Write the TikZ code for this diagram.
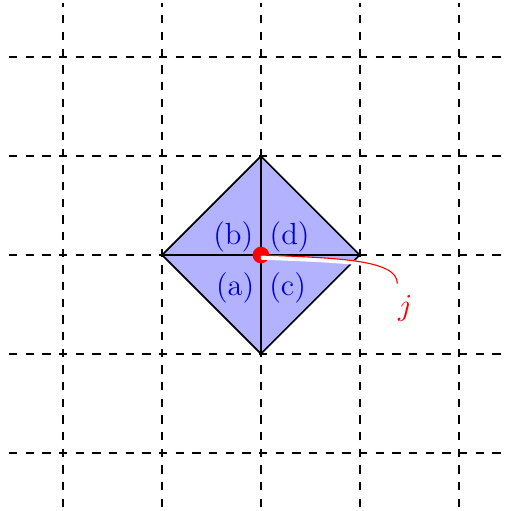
\documentclass[tikz,border=0pt]{standalone}
\usepackage{tikz}
\usetikzlibrary{calc}
\tikzset{
  gridline/.style={dashed, thick, draw=black},
  piece/.style={semithick, draw=black, fill=blue!30},
  part/.style={text=blue!85!black, inner sep=1pt, font=\fontsize{11}{13}\selectfont},
  halo/.style={white, line width=1.6pt},
  joint/.style={circle, fill=red, inner sep=0pt, minimum size=2.1mm}
}
\begin{document}
\begin{tikzpicture}[x=1.25cm,y=1.25cm]
\useasboundingbox (-2.64,-2.59) rectangle (2.47,2.58);
% grid
\foreach \i in {-2,...,2} {
  \draw[gridline] (-2.55,\i) -- (2.45,\i);
  \draw[gridline] (\i,-2.55) -- (\i,2.55);
}
% the square element
\coordinate (w) at (-1,0);
\coordinate (n) at (0,1);
\coordinate (e) at (1,0);
\coordinate (s) at (0,-1);
\filldraw[piece] (w) -- (n) -- (e) -- (s) -- cycle;
\draw[semithick] (w) -- (e);
\draw[semithick] (n) -- (s);
\node[part] (pb) at (-0.28,0.18) {(b)};
\node[part] (pd) at (0.29,0.18) {(d)};
\node[part] (pa) at (-0.26,-0.33) {(a)};
\node[part] (pc) at (0.27,-0.33) {(c)};
% the node j
\node[joint] (c0) at (0,0) {};
\node[text=red, font=\fontsize{11}{13}\selectfont] (jlbl) at (1.46,-0.54) {$j$};
\coordinate (jend) at ($(jlbl.north)+(-0.08,0.02)$);
\draw[halo] ($(c0.center)+(0,-0.025)$) .. controls (0.8,-0.055) and (1.38,-0.075) .. ($(jend)+(0,0.05)$);
\draw[red] (c0.center) .. controls (0.8,-0.03) and (1.38,-0.05) .. (jend);
\end{tikzpicture}
\end{document}
